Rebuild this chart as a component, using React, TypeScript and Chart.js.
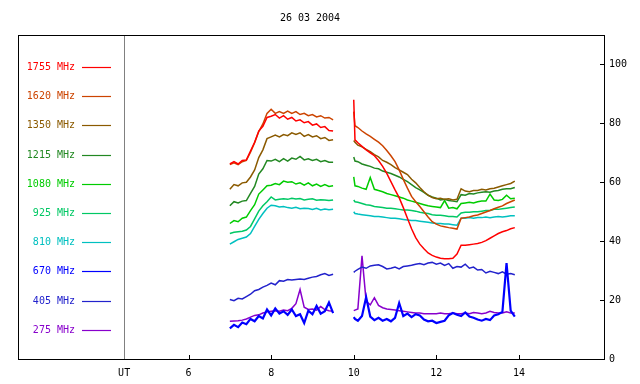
import React, { useEffect, useRef } from 'react';
import { Chart, registerables } from 'chart.js';

Chart.register(...registerables);

const TITLE = '26 03 2004';
const FONT = '"DejaVu Sans Mono", monospace';

const FREQ_LABELS = ['1755 MHz', '1620 MHz', '1350 MHz', '1215 MHz', '1080 MHz', '925 MHz', '810 MHz', '670 MHz', '405 MHz', '275 MHz'];
const COLORS = ['#ff0000', '#cc4400', '#8b5a00', '#228822', '#00cc00', '#00c864', '#00c0c0', '#0000ff', '#2222cc', '#8800cc'];

const X_TICKS = [6, 8, 10, 12, 14];
const UT_POS = 4.44;
const Y_TICKS = [0, 20, 40, 60, 80, 100];

// Time (UT hours): 7.0..9.5, gap, 10.0..13.9
const TIMES = [
  7.0, 7.1, 7.2, 7.3, 7.4, 7.5, 7.6, 7.7, 7.8, 7.9,
  8.0, 8.1, 8.2, 8.3, 8.4, 8.5, 8.6, 8.7, 8.8, 8.9,
  9.0, 9.1, 9.2, 9.3, 9.4, 9.5,
  9.75,
  10.0, 10.03, 10.1, 10.2, 10.3, 10.4, 10.5, 10.6, 10.7, 10.8, 10.9,
  11.0, 11.1, 11.2, 11.3, 11.4, 11.5, 11.6, 11.7, 11.8, 11.9,
  12.0, 12.1, 12.2, 12.3, 12.4, 12.5, 12.6, 12.7, 12.8, 12.9,
  13.0, 13.1, 13.2, 13.3, 13.4, 13.5, 13.6, 13.7, 13.8, 13.9,
];

const F1755 = [
  66.2, 67.0, 66.2, 67.4, 67.6, 70.6, 73.6, 77.4, 79.0, 82.0,
  82.4, 83.0, 81.8, 82.6, 81.4, 82.0, 80.8, 81.2, 80.2, 80.6,
  79.4, 79.8, 78.6, 78.9, 77.6, 77.4,
  null,
  88.0, 74.4, 73.4, 72.2, 71.0, 70.0, 69.0, 67.4, 65.4, 63.0, 60.2,
  57.4, 54.8, 51.4, 47.8, 44.2, 41.2, 39.0, 37.4, 36.0, 35.2,
  34.6, 34.2, 34.0, 34.0, 34.2, 35.6, 38.6, 38.6, 38.8, 39.0,
  39.2, 39.6, 40.2, 41.0, 41.8, 42.6, 43.2, 43.6, 44.2, 44.6,
];
const F1620 = [
  66.0, 66.6, 66.0, 67.0, 67.4, 70.2, 73.4, 77.2, 79.8, 83.4,
  84.8, 83.4, 84.0, 83.4, 84.2, 83.4, 84.0, 83.0, 83.4, 82.6,
  83.0, 82.2, 82.6, 81.8, 82.0, 81.2,
  null,
  84.0, 79.2, 78.6, 77.4, 76.4, 75.6, 74.6, 73.6, 72.4, 70.8, 69.0,
  67.0, 64.2, 61.0, 58.0, 55.2, 53.4, 51.8, 50.0, 48.2, 46.6,
  45.8, 45.2, 44.9, 44.6, 44.4, 44.1, 47.8, 48.0, 48.2, 48.6,
  48.9, 49.4, 49.9, 50.4, 51.0, 51.5, 52.0, 52.8, 53.4, 54.0,
];
const F1350 = [
  57.6, 59.2, 58.8, 59.8, 60.0, 61.8, 64.2, 68.4, 71.0, 74.8,
  75.4, 76.0, 75.4, 76.2, 75.8, 76.8, 76.2, 76.8, 75.6, 76.2,
  75.4, 75.8, 74.8, 75.2, 74.2, 74.4,
  null,
  74.2, 73.6, 72.6, 72.0, 71.2, 70.4, 69.4, 68.6, 67.4, 66.8, 66.0,
  65.0, 64.2, 63.4, 62.6, 61.0, 59.8, 58.2, 56.8, 55.6, 54.8,
  54.4, 54.6, 54.2, 54.4, 54.0, 54.2, 57.8, 57.0, 56.8, 57.2,
  57.2, 57.6, 57.4, 57.8, 58.0, 58.4, 58.8, 59.2, 59.6, 60.4,
];
const F1215 = [
  52.0, 53.4, 53.0, 53.6, 53.8, 56.2, 58.6, 62.8, 64.6, 67.4,
  67.2, 67.8, 67.0, 68.0, 67.2, 68.2, 67.8, 68.8, 67.6, 68.0,
  67.4, 67.8, 67.0, 67.4, 66.8, 66.8,
  null,
  68.6, 67.2, 67.0, 66.2, 65.8, 65.4, 64.8, 64.6, 63.8, 63.4, 63.0,
  62.4, 61.8, 61.0, 60.2, 59.2, 58.2, 57.4, 56.6, 55.6, 55.0,
  54.6, 54.0, 54.2, 53.8, 53.6, 53.4, 55.8, 55.6, 56.2, 56.0,
  56.4, 56.6, 56.8, 56.6, 57.0, 57.2, 57.6, 57.8, 57.8, 58.2,
];
const F1080 = [
  46.0, 47.0, 46.6, 47.8, 48.2, 50.4, 52.4, 56.0, 57.4, 58.8,
  59.0, 59.6, 59.2, 60.4, 60.0, 60.2, 59.4, 59.8, 59.0, 59.8,
  58.8, 59.4, 58.6, 59.2, 58.6, 58.8,
  null,
  61.8, 58.8, 58.6, 58.0, 57.6, 61.6, 57.6, 57.2, 56.8, 56.2, 55.8,
  55.4, 55.0, 54.6, 54.0, 53.6, 53.2, 52.8, 52.4, 52.0, 51.8,
  51.6, 51.4, 53.8, 51.2, 51.4, 51.0, 52.8, 53.0, 53.2, 53.0,
  53.4, 53.6, 53.6, 56.0, 54.0, 53.8, 54.2, 55.6, 54.4, 54.6,
];
const F925 = [
  42.6, 43.0, 43.2, 43.4, 43.8, 45.0, 47.6, 50.2, 52.0, 53.4,
  55.0, 54.0, 54.2, 54.4, 54.2, 54.6, 54.3, 54.5, 54.0, 54.2,
  54.4, 53.9, 54.1, 54.0, 53.8, 54.0,
  null,
  54.0, 53.4, 53.2, 52.8, 52.4, 52.2, 51.8, 51.6, 51.4, 51.2, 51.2,
  51.0, 50.8, 50.6, 50.6, 50.4, 50.2, 49.8, 49.6, 49.4, 49.0,
  48.8, 48.8, 48.6, 48.4, 48.4, 48.2, 49.6, 49.8, 49.8, 50.0,
  50.0, 50.2, 50.4, 50.4, 50.8, 50.8, 51.0, 51.2, 51.4, 51.6,
];
const F810 = [
  39.0, 39.8, 40.6, 41.0, 41.4, 42.6, 45.0, 47.4, 49.4, 51.2,
  52.2, 52.0, 51.6, 51.8, 51.4, 51.2, 51.5, 51.0, 51.2, 51.1,
  50.8, 51.2, 50.6, 50.9, 50.7, 50.8,
  null,
  50.0, 49.4, 49.2, 49.0, 48.8, 48.6, 48.4, 48.4, 48.2, 48.0, 47.8,
  47.8, 47.6, 47.4, 47.2, 47.0, 47.0, 46.8, 46.6, 46.4, 46.2,
  46.0, 46.0, 45.8, 45.8, 45.6, 45.4, 47.8, 47.8, 48.0, 47.8,
  48.0, 48.0, 48.2, 48.0, 48.2, 48.4, 48.2, 48.4, 48.6, 48.6,
];
const F670 = [
  10.4, 11.6, 10.8, 12.4, 11.8, 13.6, 12.8, 14.6, 13.8, 16.8,
  14.8, 17.2, 15.4, 16.2, 15.0, 16.8, 14.6, 15.2, 12.2, 16.4,
  15.2, 18.0, 15.4, 16.2, 19.2, 15.6,
  null,
  14.2, 13.6, 13.0, 14.6, 21.0, 14.4, 13.2, 14.0, 13.0, 13.6, 12.8,
  14.0, 19.0, 14.6, 15.4, 14.2, 15.2, 14.8, 13.4, 12.8, 13.0,
  12.2, 12.6, 13.0, 14.8, 15.6, 15.0, 14.6, 15.8, 14.4, 14.0,
  13.4, 13.0, 13.6, 13.2, 14.8, 15.2, 16.0, 32.6, 16.4, 14.4,
];
const F405 = [
  20.2, 19.8, 20.6, 20.4, 21.2, 22.0, 23.2, 23.6, 24.4, 25.0,
  25.8, 25.2, 26.6, 26.4, 27.0, 26.8, 27.0, 27.2, 27.0, 27.4,
  27.8, 28.0, 28.6, 29.0, 28.4, 28.8,
  null,
  29.4, 29.8, 30.4, 31.2, 30.8, 31.6, 31.8, 32.0, 31.4, 30.6, 30.8,
  31.2, 30.6, 31.4, 31.6, 31.8, 32.2, 32.4, 32.0, 32.6, 32.8,
  32.2, 32.6, 31.8, 32.4, 30.8, 31.4, 31.2, 32.2, 30.8, 31.2,
  30.2, 30.4, 29.2, 29.8, 29.4, 29.0, 29.6, 28.8, 29.0, 28.6,
];
const F275 = [
  12.8, 12.9, 13.0, 13.2, 13.6, 14.2, 14.8, 15.0, 15.6, 16.0,
  16.2, 16.4, 16.2, 16.6, 16.4, 17.2, 18.8, 23.6, 17.6, 16.8,
  17.0, 16.6, 17.8, 16.8, 16.4, 16.2,
  null,
  16.4, 16.6, 17.0, 35.0, 19.6, 18.4, 20.8, 18.2, 17.4, 17.0, 16.8,
  16.6, 16.4, 16.2, 16.0, 15.8, 15.6, 15.6, 15.4, 15.4, 15.4,
  15.4, 15.6, 15.4, 15.4, 15.6, 15.4, 15.4, 15.6, 15.4, 15.8,
  15.6, 15.4, 15.6, 16.2, 15.8, 15.6, 15.6, 16.0, 15.6, 15.6,
];

const SERIES = [F1755, F1620, F1350, F1215, F1080, F925, F810, F670, F405, F275];

const chromePlugin = {
  id: 'chrome',
  beforeDatasetsDraw(chart: any) {
    const { ctx, chartArea: a, scales } = chart;
    const ux = Math.round(scales.x.getPixelForValue(UT_POS)) + 0.5;
    ctx.save();
    ctx.strokeStyle = '#808080';
    ctx.lineWidth = 1;
    ctx.beginPath();
    ctx.moveTo(ux, a.top);
    ctx.lineTo(ux, a.bottom);
    ctx.stroke();
    ctx.restore();
  },
  afterDraw(chart: any) {
    const { ctx, chartArea: a, scales } = chart;
    ctx.save();
    ctx.strokeStyle = '#000';
    ctx.lineWidth = 1;
    ctx.strokeRect(a.left + 0.5, a.top + 0.5, a.right - a.left, a.bottom - a.top);
    ctx.beginPath();
    Y_TICKS.forEach((v) => {
      const py = Math.round(scales.y.getPixelForValue(v)) + 0.5;
      ctx.moveTo(a.right - 4, py);
      ctx.lineTo(a.right, py);
    });
    X_TICKS.forEach((v) => {
      const px = Math.round(scales.x.getPixelForValue(v)) + 0.5;
      ctx.moveTo(px, a.bottom - 4);
      ctx.lineTo(px, a.bottom);
    });
    ctx.stroke();
    ctx.font = '10px ' + FONT;
    ctx.fillStyle = '#000';
    ctx.textAlign = 'center';
    ctx.textBaseline = 'middle';
    ctx.fillText(TITLE, 310, 18);
    ctx.textAlign = 'right';
    FREQ_LABELS.forEach((lab, i) => {
      const yy = Math.round(67 + i * 29.2);
      ctx.fillStyle = COLORS[i];
      ctx.fillText(lab, 75, yy);
      ctx.strokeStyle = COLORS[i];
      ctx.lineWidth = 1.2;
      ctx.beginPath();
      ctx.moveTo(82, yy + 0.5);
      ctx.lineTo(111, yy + 0.5);
      ctx.stroke();
    });
    ctx.restore();
  },
};

export default function App() {
  const ref = useRef<HTMLCanvasElement | null>(null);
  useEffect(() => {
    if (!ref.current) return;
    const datasets = SERIES.map((vals, i) => ({
      label: FREQ_LABELS[i],
      data: TIMES.map((t, j) => ({ x: t, y: vals[j] })),
      borderColor: COLORS[i],
      backgroundColor: COLORS[i],
      borderWidth: i === 7 ? 2.2 : 1.5,
      pointRadius: 0,
      tension: 0,
      spanGaps: false,
    }));
    const chart = new Chart(ref.current, {
      type: 'line',
      data: { datasets },
      options: {
        responsive: false,
        animation: false,
        devicePixelRatio: 1,
        layout: { padding: { left: 18, top: 35, right: 0, bottom: 0 } },
        plugins: { legend: { display: false }, title: { display: false }, tooltip: { enabled: false } },
        scales: {
          x: {
            type: 'linear',
            min: 1.87,
            max: 16.06,
            grid: { display: false, drawTicks: false },
            border: { display: false },
            afterBuildTicks: (s: any) => {
              s.ticks = [UT_POS, ...X_TICKS].map((v) => ({ value: v }));
            },
            afterFit: (s: any) => {
              s.height = 25;
            },
            ticks: {
              autoSkip: false,
              maxRotation: 0,
              padding: 8,
              color: '#000',
              font: { family: FONT, size: 10 },
              callback: (v: any) => (v === UT_POS ? 'UT' : String(v)),
            },
          },
          y: {
            type: 'linear',
            position: 'right',
            min: 0,
            max: 110,
            grid: { display: false, drawTicks: false },
            border: { display: false },
            afterBuildTicks: (s: any) => {
              s.ticks = Y_TICKS.map((v) => ({ value: v }));
            },
            afterFit: (s: any) => {
              s.width = 36;
            },
            ticks: {
              padding: 5,
              color: '#000',
              font: { family: FONT, size: 10 },
            },
          },
        },
      },
      plugins: [chromePlugin],
    });
    return () => chart.destroy();
  }, []);
  return (
    <div style={{ position: 'fixed', left: 0, top: 0, width: 640, height: 384, background: '#fff' }}>
      <canvas ref={ref} width={640} height={384} style={{ width: 640, height: 384, display: 'block' }} />
    </div>
  );
}
